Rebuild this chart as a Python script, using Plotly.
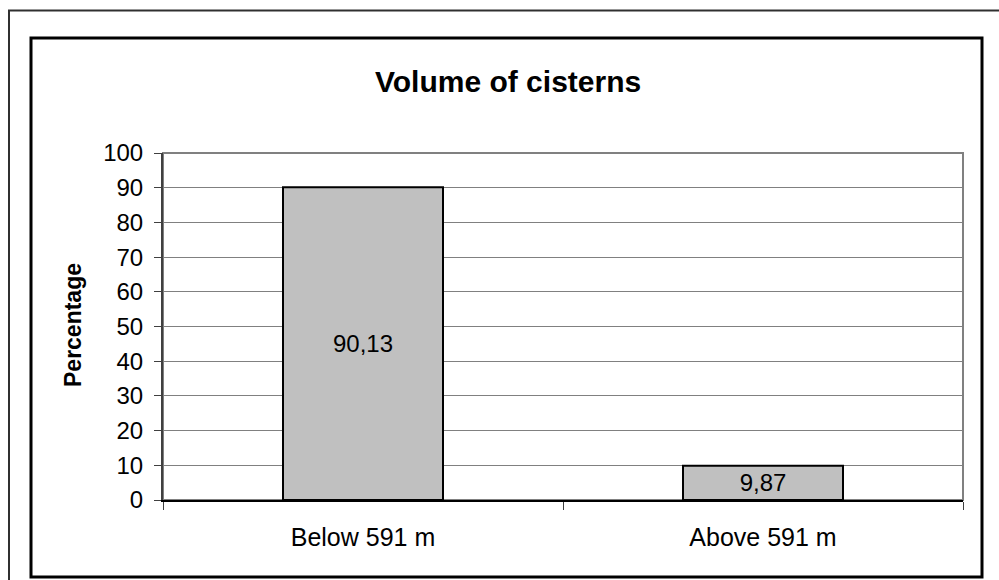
import plotly.graph_objects as go

# Chart data
categories = ["Below 591 m", "Above 591 m"]
percentages = [90.13, 9.87]
y_ticks = list(range(0, 101, 10))

W, H = 999, 580
L, R, T, B = 163, 36, 153, 80
PW, PH = W - L - R, H - T - B


def px(xp):
    return (xp - L) / PW


def py(yp):
    return (H - B - yp) / PH


FONT = "Liberation Sans, Arial, sans-serif"

fig = go.Figure(
    go.Bar(
        x=categories,
        y=percentages,
        marker=dict(color="#C0C0C0", line=dict(color="#000000", width=2)),
        texttemplate="%{y:.2f}",
        textposition="inside",
        insidetextanchor="middle",
        textangle=0,
        textfont=dict(family=FONT, size=24, color="#000000"),
        cliponaxis=False,
    )
)

fig.update_layout(
    width=W,
    height=H,
    margin=dict(l=L, r=R, t=T, b=B, pad=0),
    paper_bgcolor="white",
    plot_bgcolor="white",
    separators=", ",
    bargap=0.6,
    showlegend=False,
    font=dict(family=FONT, size=24, color="#000000"),
)

fig.update_xaxes(
    type="category",
    tickson="boundaries",
    ticks="outside",
    ticklen=8,
    tickwidth=1,
    tickcolor="#404040",
    showline=True,
    linecolor="#000000",
    linewidth=2,
    showgrid=False,
    tickfont=dict(family=FONT, size=25),
    ticklabelstandoff=14,
)

fig.update_yaxes(
    range=[0, 100],
    tickvals=y_ticks,
    ticks="outside",
    ticklen=7,
    tickwidth=1,
    tickcolor="#404040",
    showline=True,
    linecolor="#404040",
    linewidth=2,
    showgrid=True,
    gridcolor="#808080",
    gridwidth=1,
    zeroline=False,
    tickfont=dict(family=FONT, size=24),
    ticklabelstandoff=6,
)

shapes = [
    # plot area frame (top and right)
    dict(type="rect", xref="paper", yref="paper", x0=0, y0=0, x1=1, y1=1,
         line=dict(color="#808080", width=2), layer="below"),
    # inner chart frame
    dict(type="rect", xref="paper", yref="paper",
         x0=px(31), y0=py(577), x1=px(982), y1=py(38),
         line=dict(color="#000000", width=3)),
    # outer frame
    dict(type="rect", xref="paper", yref="paper",
         x0=px(9), y0=py(600), x1=px(1020), y1=py(10.5),
         line=dict(color="#303030", width=2)),
]
fig.update_layout(shapes=shapes)

fig.add_annotation(
    text="<b>Volume of cisterns</b>", xref="paper", yref="paper",
    x=px(508), y=py(82), showarrow=False,
    font=dict(family=FONT, size=30, color="#000000"),
    xanchor="center", yanchor="middle",
)
fig.add_annotation(
    text="<b>Percentage</b>", xref="paper", yref="paper",
    x=px(73), y=py(325), showarrow=False, textangle=-90,
    font=dict(family=FONT, size=23, color="#000000"),
    xanchor="center", yanchor="middle",
)

fig.write_html("out.html")
